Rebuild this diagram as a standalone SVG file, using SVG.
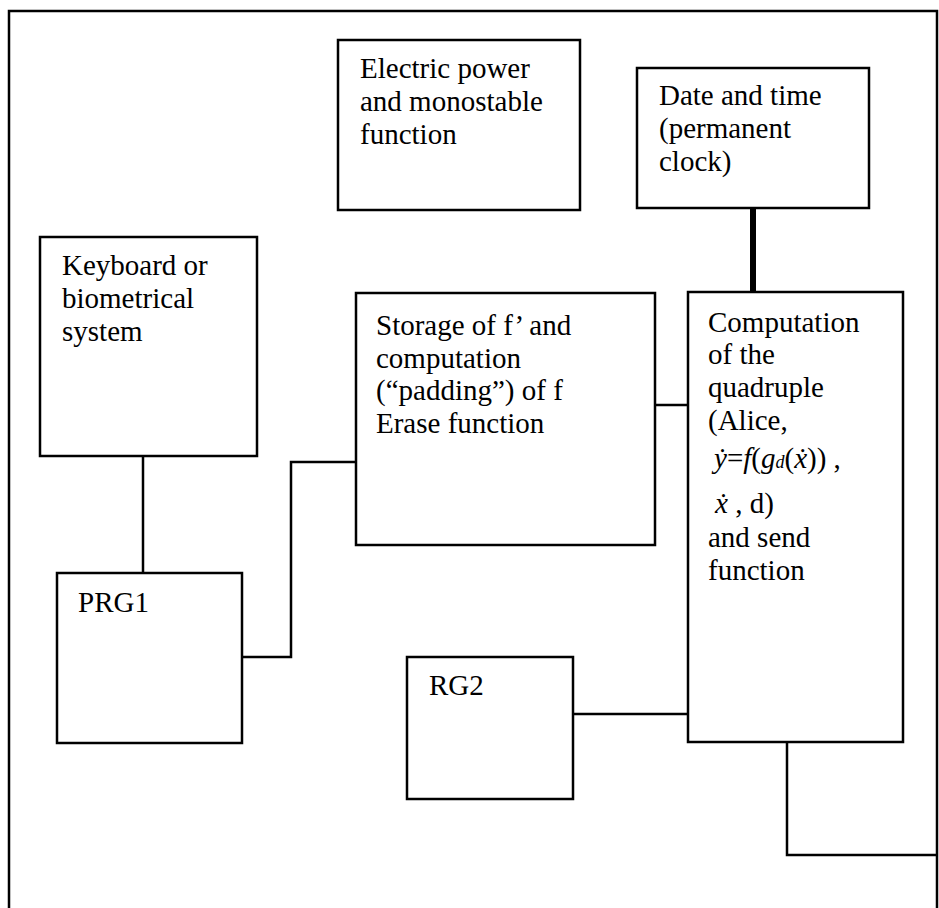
<svg xmlns="http://www.w3.org/2000/svg" width="939" height="908" viewBox="0 0 939 908">
<style>
.box{fill:#fff;stroke:#000;stroke-width:2.5}
.ln{fill:none;stroke:#000;stroke-width:2.5}
.thick{fill:none;stroke:#000;stroke-width:6}
text{font-family:"Liberation Serif","Times New Roman",serif;font-size:29px;fill:#000}
.it{font-style:italic}
</style>
<rect width="939" height="908" fill="#fff"/>
<g id="frame"><path class="ln" d="M9,908 V11 H937 V908" stroke-width="3"/></g>
<g id="connectors">
<path class="thick" d="M753,208 V292"/>
<path class="ln" d="M143,456 V573"/>
<path class="ln" d="M242,657 H291 V462 H356"/>
<path class="ln" d="M655,405 H688"/>
<path class="ln" d="M573,714 H688"/>
<path class="ln" d="M787,742 V855 H937"/>
</g>
<g id="electric"><rect class="box" x="338" y="40" width="242" height="170"/>
<text x="360" y="78">Electric power</text><text x="360" y="111">and monostable</text><text x="360" y="144">function</text></g>
<g id="datetime"><rect class="box" x="637" y="68" width="232" height="140"/>
<text x="659" y="105">Date and time</text><text x="659" y="138">(permanent</text><text x="659" y="171">clock)</text></g>
<g id="keyboard"><rect class="box" x="40" y="237" width="217" height="219"/>
<text x="62" y="275">Keyboard or</text><text x="62" y="308">biometrical</text><text x="62" y="341">system</text></g>
<g id="storage"><rect class="box" x="356" y="293" width="299" height="252"/>
<text x="376" y="335">Storage of f’ and</text><text x="376" y="368">computation</text><text x="376" y="400">(“padding”) of f</text><text x="376" y="433">Erase function</text></g>
<g id="computation"><rect class="box" x="688" y="292" width="215" height="450"/>
<text x="708" y="332">Computation</text><text x="708" y="364">of the</text><text x="708" y="397">quadruple</text><text x="708" y="430">(Alice,</text>
<text x="714" y="468"><tspan class="it">ẏ</tspan>=<tspan class="it">f</tspan>(<tspan class="it">g</tspan><tspan class="it" font-size="18">d</tspan>(<tspan class="it">ẋ</tspan>)) ,</text>
<text x="715" y="513"><tspan class="it">ẋ</tspan> , d)</text>
<text x="708" y="547">and send</text><text x="708" y="580">function</text></g>
<g id="prg1"><rect class="box" x="57" y="573" width="185" height="170"/><text x="78" y="612">PRG1</text></g>
<g id="rg2"><rect class="box" x="407" y="657" width="166" height="142"/><text x="429" y="695">RG2</text></g>
</svg>
